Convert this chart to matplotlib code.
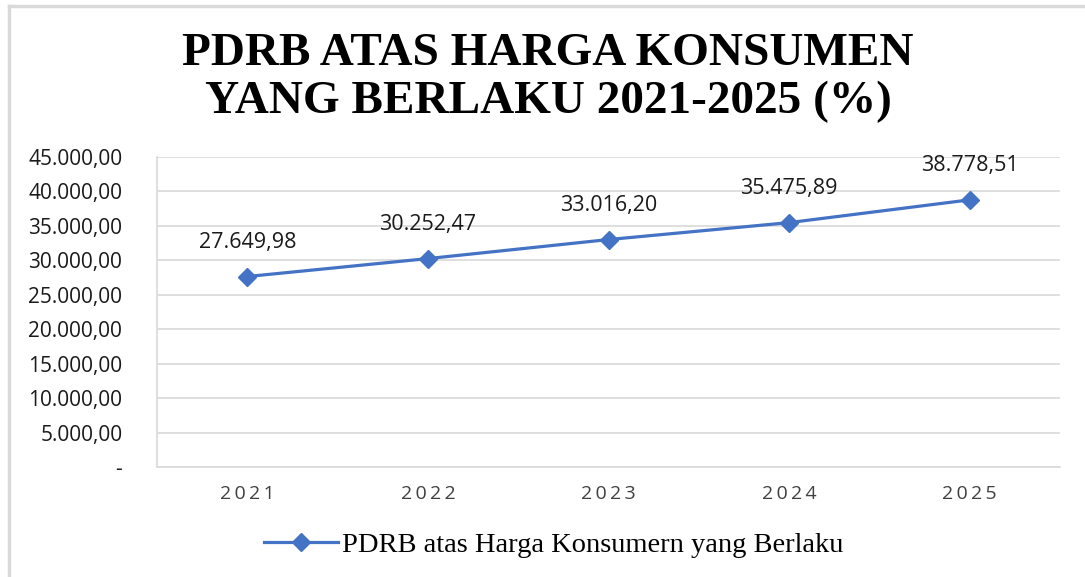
import matplotlib
matplotlib.use("Agg")
import matplotlib.pyplot as plt
from matplotlib.lines import Line2D
from matplotlib.ticker import FixedLocator

years = ["2021", "2022", "2023", "2024", "2025"]
values = [27649.98, 30252.47, 33016.20, 35475.89, 38778.51]
value_labels = ["27.649,98", "30.252,47", "33.016,20", "35.475,89", "38.778,51"]
y_ticks = [0, 5000, 10000, 15000, 20000, 25000, 30000, 35000, 40000, 45000]
y_tick_labels = ["-", "5.000,00", "10.000,00", "15.000,00", "20.000,00",
                 "25.000,00", "30.000,00", "35.000,00", "40.000,00", "45.000,00"]
title_text = "PDRB ATAS HARGA KONSUMEN\nYANG BERLAKU 2021-2025 (%)"
legend_label = "PDRB atas Harga Konsumern yang Berlaku"

line_color = "#4472C4"
grid_color = "#D9D9D9"

fig = plt.figure(figsize=(10.85, 5.77), dpi=100)
W, H = 1085, 577
ax = fig.add_axes([157 / W, 1 - 467 / H, (1060 - 157) / W, (467 - 157) / H])

x = list(range(len(years)))
ax.plot(x, values, color=line_color, lw=2.3, marker="D", ms=9, mec=line_color,
        mfc=line_color, zorder=3, solid_capstyle="round")
for xi, v, lab in zip(x, values, value_labels):
    ax.annotate(lab, (xi, v), xytext=(0, 17), textcoords="offset points",
                ha="center", va="bottom", fontsize=15.5, family="Open Sans",
                color="#1a1a1a")

ax.set_xlim(-0.5, 4.5)
ax.set_ylim(0, 45000)
ax.yaxis.set_major_locator(FixedLocator(y_ticks))
ax.set_yticklabels(y_tick_labels, family="Open Sans", fontsize=15, color="#1a1a1a")
ax.set_xticks(x)
ax.set_xticklabels([" ".join(list(y)).replace(" ", "\u2009") for y in years],
                   family="Open Sans", fontsize=14, color="#404040")
ax.tick_params(axis="both", length=0)
ax.tick_params(axis="y", pad=25)
ax.tick_params(axis="x", pad=13)
ax.grid(axis="y", color=grid_color, lw=1.2)
ax.set_axisbelow(True)
for s in ["top", "right"]:
    ax.spines[s].set_visible(False)
for s in ["left", "bottom"]:
    ax.spines[s].set_color(grid_color)
    ax.spines[s].set_linewidth(1.2)

fig.text(548 / W, 1 - 78 / H, title_text, ha="center", va="center",
         family="Liberation Serif", weight="bold", fontsize=34,
         linespacing=1.2, color="#000000")

handle = Line2D([], [], color=line_color, lw=2.3, marker="D", ms=9,
                mec=line_color, mfc=line_color)
fig.legend([handle], [legend_label], loc="center", bbox_to_anchor=(554 / W, 1 - 545 / H),
           frameon=False, prop={"family": "Liberation Serif", "size": 20.5},
           handlelength=2.6, handletextpad=0.15)

# outer frame lines (top and left)
fig.add_artist(Line2D([9 / W, 9 / W], [0, 1 - 6 / H], transform=fig.transFigure,
                      color="#D9D9D9", lw=2.5))
fig.add_artist(Line2D([9 / W, 1], [1 - 6 / H, 1 - 6 / H], transform=fig.transFigure,
                      color="#D9D9D9", lw=2.5))

fig.savefig("out.png", dpi=100)
